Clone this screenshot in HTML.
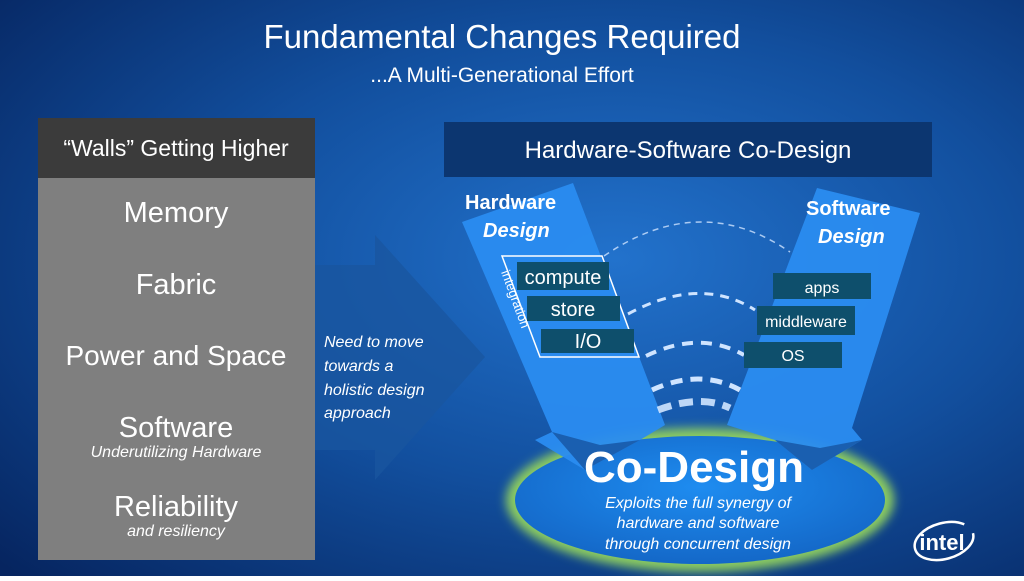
<!DOCTYPE html>
<html><head><style>body{margin:0;width:1024px;height:576px;overflow:hidden}</style></head><body>
<svg width="1024" height="576" viewBox="0 0 1024 576" xmlns="http://www.w3.org/2000/svg" font-family="Liberation Sans, sans-serif">
<defs>
<radialGradient id="bg" cx="0.6" cy="0.45" r="0.8">
<stop offset="0" stop-color="#2272cc"/><stop offset="0.5" stop-color="#124f9e"/><stop offset="1" stop-color="#062560"/>
</radialGradient>
<radialGradient id="ell" cx="0.5" cy="0.4" r="0.6">
<stop offset="0" stop-color="#1e8cf0"/><stop offset="1" stop-color="#1468c8"/>
</radialGradient>
<filter id="glow"><feGaussianBlur stdDeviation="5"/></filter>
</defs>
<rect width="1024" height="576" fill="url(#bg)"/>
<text x="502" y="48" fill="#fff" font-size="33" text-anchor="middle">Fundamental Changes Required</text>
<text x="502" y="82" fill="#fff" font-size="21" text-anchor="middle">...A Multi-Generational Effort</text>
<polygon points="315,265 375,265 375,235 485,357 375,480 375,450 315,450" fill="#1a559f" opacity="0.75"/>
<rect x="38" y="118" width="277" height="60" fill="#3b3b3b"/>
<rect x="38" y="178" width="277" height="382" fill="#7f7f7f"/>
<g fill="#fff" text-anchor="middle">
<text x="176" y="156" font-size="23">“Walls” Getting Higher</text>
<text x="176" y="222" font-size="29">Memory</text>
<text x="176" y="294" font-size="29">Fabric</text>
<text x="176" y="365" font-size="28">Power and Space</text>
<text x="176" y="437" font-size="29">Software</text>
<text x="176" y="457" font-size="16" font-style="italic">Underutilizing Hardware</text>
<text x="176" y="516" font-size="29">Reliability</text>
<text x="176" y="536" font-size="16" font-style="italic">and resiliency</text>
</g>
<g fill="#fff" font-size="16" font-style="italic">
<text x="324" y="347">Need to move</text>
<text x="324" y="371">towards a</text>
<text x="324" y="395">holistic design</text>
<text x="324" y="418">approach</text>
</g>
<rect x="444" y="122" width="488" height="55" fill="#0c3670"/>
<text x="688" y="158" fill="#fff" font-size="24" text-anchor="middle">Hardware-Software Co-Design</text>
<ellipse cx="700" cy="500" rx="194" ry="72" fill="#8ccc60" filter="url(#glow)"/>
<ellipse cx="700" cy="500" rx="185" ry="64" fill="url(#ell)"/>
<polygon points="462,222 573,183 665,425 640,440 585,470 535,440 552,432" fill="#2a8cf0" opacity="0.95"/>
<polygon points="817,188 920,213 852,428 862,440 812,470 775,440 727,425" fill="#2a8cf0" opacity="0.95"/>
<polygon points="552,432 585,470 640,440 600,445" fill="#1a5fb0"/>
<polygon points="775,440 812,470 862,440 820,448" fill="#1a5fb0"/>
<g fill="#fff" font-weight="bold" font-size="20">
<text x="465" y="209">Hardware</text>
<text x="483" y="237" font-style="italic">Design</text>
<text x="806" y="215">Software</text>
<text x="818" y="243" font-style="italic">Design</text>
</g>
<g fill="none" stroke="#cfe4ff" stroke-linecap="butt">
<path d="M604,256 Q700,190 790,252" stroke-width="1.5" stroke-dasharray="6,5" opacity="0.8"/>
<path d="M628,314 Q700,275 755,310" stroke-width="3" stroke-dasharray="9,7"/>
<path d="M646,356 Q700,330 744,355" stroke-width="4" stroke-dasharray="11,8"/>
<path d="M652,390 Q700,368 740,390" stroke-width="5" stroke-dasharray="12,8"/>
<path d="M658,410 Q700,394 730,408" stroke-width="7" stroke-dasharray="14,8" opacity="0.9"/>
</g>
<polygon points="502,256 602,256 639,357 540,357" fill="none" stroke="#fff" stroke-width="1.5"/>
<g fill="#0e4f6c">
<rect x="517" y="262" width="92" height="28"/>
<rect x="527" y="296" width="93" height="25"/>
<rect x="541" y="329" width="93" height="24"/>
<rect x="773" y="273" width="98" height="26"/>
<rect x="757" y="306" width="98" height="29"/>
<rect x="744" y="342" width="98" height="26"/>
</g>
<g fill="#fff" text-anchor="middle">
<text x="563" y="284" font-size="20">compute</text>
<text x="573" y="316" font-size="20">store</text>
<text x="588" y="348" font-size="20">I/O</text>
<text x="822" y="293" font-size="16">apps</text>
<text x="806" y="327" font-size="16">middleware</text>
<text x="793" y="361" font-size="16">OS</text>
</g>
<text x="0" y="0" fill="#fff" font-size="13" transform="translate(501,272) rotate(70)">integration</text>
<g fill="#fff" text-anchor="middle">
<text x="694" y="482" font-size="44" font-weight="bold">Co-Design</text>
<text x="698" y="508" font-size="16" font-style="italic">Exploits the full synergy of</text>
<text x="698" y="528" font-size="16" font-style="italic">hardware and software</text>
<text x="698" y="549" font-size="16" font-style="italic">through concurrent design</text>
</g>
<ellipse cx="944" cy="541" rx="30" ry="18" fill="none" stroke="#fff" stroke-width="2.5" stroke-dasharray="140,30" transform="rotate(-15 944 541)"/>
<text x="942" y="550" fill="#fff" font-size="22" font-weight="bold" text-anchor="middle">intel</text>
</svg>
</body></html>
